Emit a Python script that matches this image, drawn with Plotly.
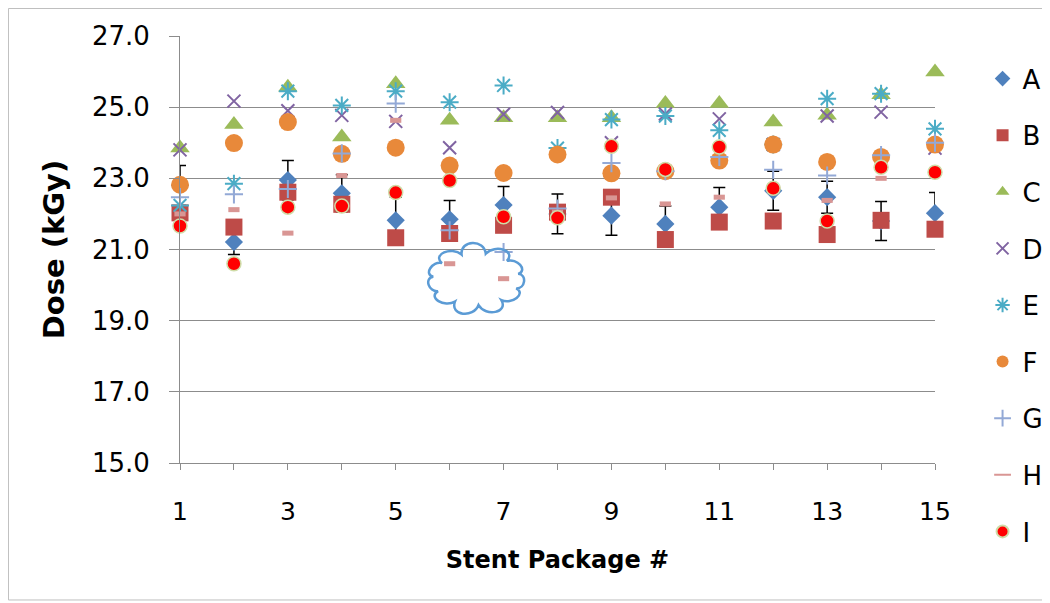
import math
import plotly.graph_objects as go

packages = list(range(1, 16))
series_names = ["A", "B", "C", "D", "E", "F", "G", "H", "I"]

A = [22.80, 21.21, 22.95, 22.58, 21.82, 21.85, 22.25, 22.00, 21.95, 21.72, 22.19, 22.65, 22.47, 21.80, 22.02]
A_err = [0.56, 0.35, 0.55, 0.52, 0.65, 0.53, 0.52, 0.56, 0.55, 0.50, 0.55, 0.55, 0.45, 0.55, 0.58]
B = [22.03, 21.63, 22.61, 22.27, 21.33, 21.45, 21.68, 22.05, 22.47, 21.28, 21.77, 21.80, 21.42, 21.82, 21.57]
C = [23.85, 24.51, 25.56, 24.16, 25.66, 24.63, 24.70, 24.70, 24.70, 25.10, 25.10, 24.58, 24.77, 25.35, 25.99]
D = [23.80, 25.17, 24.90, 24.77, 24.60, 23.86, 24.80, 24.85, 24.00, 24.81, 24.67, 23.95, 24.75, 24.86, 23.85]
E = [22.24, 22.85, 25.45, 25.05, 25.45, 25.14, 25.61, 23.85, 24.65, 24.75, 24.35, 23.95, 25.24, 25.38, 24.39]
F = [22.82, 23.99, 24.58, 23.69, 23.86, 23.36, 23.15, 23.67, 23.14, 23.20, 23.50, 23.95, 23.46, 23.60, 23.95]
G = [22.47, 22.55, 22.70, 23.70, 25.10, 21.54, 20.93, 22.15, 23.43, 23.20, 23.60, 23.24, 23.08, 23.65, 24.00]
H = [22.00, 22.12, 21.46, 23.08, 24.63, 20.60, 20.18, 22.05, 22.45, 22.28, 22.47, 22.70, 22.38, 23.00, 23.17]
I = [21.66, 20.60, 22.19, 22.22, 22.60, 22.94, 21.92, 21.89, 23.90, 23.25, 23.88, 22.72, 21.80, 23.31, 23.17]

y_tick_values = [15, 17, 19, 21, 23, 25, 27]
x_tick_labels = [str(v) if v % 2 == 1 else "" for v in packages]

styles = {
    "A": dict(symbol="diamond", size=14, color="#4F81BD", line=dict(width=0)),
    "B": dict(symbol="square", size=17, color="#BE4B48", line=dict(width=0)),
    "C": dict(symbol="triangle-up", size=17, color="#9BBB59", line=dict(width=0)),
    "D": dict(symbol="x-thin-open", size=13, color="#8064A2", line=dict(width=2, color="#8064A2")),
    "E": dict(symbol="asterisk-open", size=15, color="#4BACC6", line=dict(width=2, color="#4BACC6")),
    "F": dict(symbol="circle", size=18, color="#E8893A", line=dict(width=0)),
    "G": dict(symbol="cross-thin-open", size=13, color="#93A9D6", line=dict(width=2, color="#93A9D6")),
    "H": dict(symbol="line-ew-open", size=8, color="#D99694", line=dict(width=5, color="#D99694")),
    "I": dict(symbol="circle", size=14, color="#FF0000", line=dict(width=1.5, color="#CFDCA8")),
}
values = {"A": A, "B": B, "C": C, "D": D, "E": E, "F": F, "G": G, "H": H, "I": I}

fig = go.Figure()
for name in series_names:
    kw = {}
    if name == "A":
        kw["error_y"] = dict(type="data", array=A_err, color="black", thickness=1.5, width=6)
    fig.add_trace(go.Scatter(
        x=packages, y=values[name], mode="markers", name=name,
        marker=styles[name], legendgroup=name, cliponaxis=False, **kw))

# cloud callout shape (pixel path anchored in data space)
def cloud_path(a=43, b=26, n=11, k=0.62):
    pts = []
    for i in range(n):
        t = 2 * math.pi * i / n + 0.2
        pts.append((a * math.cos(t), b * math.sin(t)))
    p = "M{:.1f},{:.1f}".format(*pts[0])
    for i in range(n):
        x0, y0 = pts[i]
        x1, y1 = pts[(i + 1) % n]
        mx, my = (x0 + x1) / 2, (y0 + y1) / 2
        nm = math.hypot(mx, my)
        nx, ny = mx / nm, my / nm
        d = math.hypot(x1 - x0, y1 - y0)
        h = k * d
        p += " C{:.1f},{:.1f} {:.1f},{:.1f} {:.1f},{:.1f}".format(
            x0 + nx * h, y0 + ny * h, x1 + nx * h, y1 + ny * h, x1, y1)
    return p + " Z"

fig.add_shape(type="path", xref="x", yref="y", xsizemode="pixel", ysizemode="pixel",
              xanchor=6.49, yanchor=20.17, path=cloud_path(),
              line=dict(color="#5B9BD5", width=2.5), fillcolor="rgba(0,0,0,0)", layer="above")

# outer frame
fig.add_shape(type="rect", xref="paper", yref="paper", x0=-0.2272, x1=1.1457, y0=-0.3208, y1=1.0644,
              line=dict(color="#BFBFBF", width=1), fillcolor="rgba(0,0,0,0)", layer="below")

axis_gray = "#8C8C8C"
fig.update_layout(
    width=1050, height=603, autosize=False,
    margin=dict(l=172, r=123, t=28, b=148, autoexpand=False),
    paper_bgcolor="white", plot_bgcolor="white",
    font=dict(family="DejaVu Sans", color="black"),
    showlegend=True,
    legend=dict(x=1.063, y=0.955, xanchor="left", yanchor="top",
                font=dict(family="DejaVu Sans", size=26, color="black"),
                tracegroupgap=19.8, itemsizing="constant", bgcolor="rgba(0,0,0,0)",
                maxheight=580),
    xaxis=dict(range=[1, 15], tickmode="array", tickvals=packages, ticktext=x_tick_labels,
               ticks="outside", ticklen=6, tickcolor=axis_gray, showline=True, linecolor=axis_gray,
               linewidth=1, showgrid=False, zeroline=False, tickfont=dict(size=25),
               ticklabelstandoff=20, automargin=False,
               title=dict(text="<b>Stent Package #</b>", font=dict(size=24), standoff=26)),
    yaxis=dict(range=[15, 27], tickmode="array", tickvals=y_tick_values, tickformat=".1f",
               ticks="outside", ticklen=10, tickcolor=axis_gray, showline=True, linecolor=axis_gray,
               linewidth=1, showgrid=True, gridcolor=axis_gray, gridwidth=1, zeroline=False,
               tickfont=dict(size=26), ticklabelstandoff=14, automargin=False,
               title=dict(text="<b>Dose (kGy)</b>", font=dict(size=29), standoff=18)),
)

fig.write_html("out.html")
